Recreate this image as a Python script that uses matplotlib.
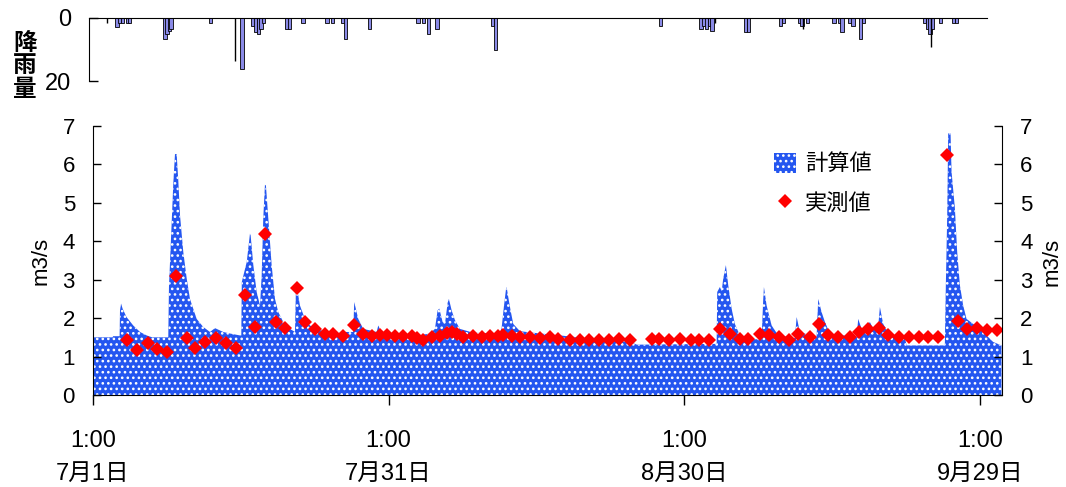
import numpy as np
import matplotlib
matplotlib.use('Agg')
import matplotlib.pyplot as plt
from matplotlib.patches import Patch
from matplotlib.lines import Line2D

plt.rcParams['font.family'] = ['Liberation Sans', 'Noto Sans CJK JP']
plt.rcParams['hatch.linewidth'] = 1.1

# 経過日数 (7/1 1:00 起点)
# 降雨量 (mm)
rain_day = [2.44, 2.71, 2.97, 3.48, 3.72, 7.29, 7.51, 7.76, 7.91, 11.90,
            15.10, 16.24, 16.51, 16.77, 17.05, 17.30, 19.69, 19.96, 21.31,
            23.74, 24.32, 25.37, 25.64, 28.08, 32.98, 33.52, 34.07, 34.89,
            40.56, 40.84, 57.61, 61.69, 61.99, 62.27, 62.53, 62.80, 66.24,
            66.54, 69.78, 70.05, 71.67, 71.94, 72.48, 75.19, 75.73, 76.00,
            76.81, 77.12, 77.91, 78.20, 84.39, 84.66, 84.93, 85.20, 86.02,
            87.34, 87.60]
rain_mm = [3.0, 1.7, 1.7, 1.7, 1.7, 6.7, 5.0, 4.0, 3.4, 1.7,
           16.1, 2.6, 4.4, 5.2, 3.4, 1.7, 3.5, 3.5, 1.7,
           1.7, 1.7, 1.7, 6.7, 3.5, 1.7, 1.7, 5.2, 3.5,
           2.6, 10.2, 2.6, 3.5, 2.6, 3.5, 2.6, 4.2, 4.4,
           4.4, 2.6, 1.7, 1.7, 2.6, 1.7, 1.7, 1.7, 4.4,
           1.7, 2.6, 6.7, 1.7, 1.7, 3.5, 5.0, 3.5, 1.7,
           1.7, 1.7]
# 細線で描かれている降雨
spike_day = [1.42, 14.41, 63.15, 72.07, 85.06]
spike_mm = [1.7, 13.7, 1.7, 3.5, 9.3]

# 計算値 (m3/s)
calc_day = [0, 2.0, 2.03, 2.7, 2.74, 2.85, 3.0, 3.4, 4.08, 4.77, 5.45, 6.0,
            7.64, 7.71, 7.99, 8.15, 8.32, 8.49, 8.66, 8.83, 9.16, 9.51, 9.84,
            10.52, 11.19, 11.87, 12.38, 13.22, 13.90, 14.92, 15.05, 15.10,
            15.60, 15.93, 16.0, 16.27, 16.61, 16.95, 17.12, 17.28, 17.45,
            17.55, 17.79, 18.13, 18.47, 18.80, 19.31, 19.99, 20.50, 20.60,
            20.73, 21.00, 21.51, 22.02, 22.70, 24.05, 25.40, 26.41, 26.51,
            26.92, 27.43, 28.79, 28.95, 29.29, 31.0, 33.0, 34.2, 34.70, 34.97,
            35.14, 35.48, 35.72, 35.99, 36.12, 36.40, 36.73, 37.24, 38.59,
            41.30, 41.47, 41.70, 41.91, 41.98, 42.14, 42.38, 42.65, 43.33,
            44.68, 47.39, 50.0, 52.0, 54.5, 55.2, 63.29, 63.35, 63.62, 63.80,
            63.96, 64.23, 64.47, 64.81, 65.14, 65.65, 66.33, 67.85, 68.02,
            68.09, 68.36, 68.87, 69.54, 71.23, 71.41, 71.74, 73.43, 73.60,
            73.94, 74.28, 74.78, 77.49, 77.66, 78.00, 78.50, 78.84, 79.18,
            79.69, 79.86, 80.19, 80.87, 82.39, 82.57, 86.45, 86.55, 86.69,
            86.79, 87.03, 87.13, 87.47, 87.70, 87.98, 88.31, 88.65, 89.33,
            90.00, 91.35, 92.2]
calc_q = [1.50, 1.50, 1.53, 1.53, 2.20, 2.38, 2.25, 2.03, 1.81, 1.64, 1.55, 1.50,
          1.50, 2.82, 4.52, 5.51, 6.27, 6.27, 5.56, 4.68, 3.73, 3.03, 2.50,
          1.98, 1.77, 1.64, 1.74, 1.64, 1.60, 1.55, 1.55, 2.94,
          3.46, 4.20, 4.15, 3.38, 2.68, 2.33, 3.12, 4.60, 5.47,
          5.45, 4.60, 3.38, 2.50, 2.16, 1.90, 1.72, 1.64, 2.85,
          2.75, 2.33, 1.98, 1.81, 1.70, 1.64, 1.64, 1.64, 2.42,
          1.98, 1.72, 1.64, 1.81, 1.62, 1.58, 1.55, 1.60, 1.72, 2.20,
          2.25, 1.90, 1.85, 2.40, 2.50, 2.20, 1.95, 1.72, 1.62,
          1.60, 1.75, 2.30, 2.75, 2.81, 2.55, 2.20, 1.85, 1.66,
          1.62, 1.55, 1.48, 1.43, 1.38, 1.31, 1.33, 2.68, 2.81, 2.70,
          3.03, 3.38, 2.85, 2.25, 1.85, 1.55, 1.45, 1.45, 2.50,
          2.81, 2.33, 1.81, 1.55, 1.48, 2.03, 1.64, 1.50, 2.50,
          2.16, 1.90, 1.60, 1.50, 1.98, 1.72, 1.75, 1.90, 1.72,
          1.80, 2.29, 1.85, 1.55, 1.50, 1.29, 1.29, 2.85, 4.68,
          6.81, 6.81, 5.81, 4.86, 3.73, 2.85, 2.33, 1.98, 1.85,
          1.72, 1.38, 1.29]

# 実測値 (m3/s)
obs_day = [3.42, 4.50, 5.55, 6.46, 7.48, 8.42, 9.51, 10.35, 11.36, 12.48,
           13.47, 14.51, 15.39, 16.44, 17.45, 18.54, 19.48, 20.67, 21.51,
           22.53, 23.54, 24.38, 25.40, 26.48, 27.37, 28.28, 29.12, 29.87,
           30.64, 31.49, 32.34, 32.85, 33.52, 34.37, 35.21, 35.89, 36.40,
           36.90, 37.57, 38.59, 39.44, 40.28, 41.13, 41.63, 42.49, 43.33,
           44.34, 45.36, 46.37, 47.21, 48.40, 49.42, 50.36, 51.37, 52.39,
           53.40, 54.49, 56.75, 57.46, 58.48, 59.57, 60.65, 61.52, 62.54,
           63.63, 64.64, 65.65, 66.46, 67.69, 68.60, 69.61, 70.65, 71.57,
           72.76, 73.70, 74.61, 75.56, 76.81, 77.76, 78.67, 79.79, 80.70,
           81.82, 82.83, 83.85, 84.76, 85.77, 86.63, 87.80, 88.65, 89.67,
           90.68, 91.70]
obs_q = [1.44, 1.18, 1.35, 1.20, 1.13, 3.10, 1.49, 1.23, 1.39, 1.49,
         1.35, 1.22, 2.59, 1.77, 4.18, 1.91, 1.74, 2.79, 1.91,
         1.71, 1.59, 1.59, 1.53, 1.81, 1.59, 1.53, 1.57, 1.57,
         1.53, 1.53, 1.53, 1.49, 1.42, 1.51, 1.53, 1.62, 1.64,
         1.59, 1.51, 1.53, 1.51, 1.53, 1.53, 1.57, 1.53, 1.51,
         1.51, 1.48, 1.51, 1.46, 1.44, 1.44, 1.44, 1.44, 1.44,
         1.46, 1.42, 1.46, 1.46, 1.44, 1.46, 1.44, 1.44, 1.42,
         1.72, 1.59, 1.46, 1.46, 1.59, 1.55, 1.51, 1.44, 1.59,
         1.51, 1.85, 1.57, 1.51, 1.51, 1.64, 1.71, 1.74, 1.55,
         1.51, 1.51, 1.51, 1.51, 1.51, 6.25, 1.92, 1.72, 1.74,
         1.68, 1.68]

tick_day = [0, 30, 60, 90]
tick_lab = ['1:00\n7月1日', '1:00\n7月31日', '1:00\n8月30日', '1:00\n9月29日']

blue = '#2456f0'
W, H = 1066, 487
fig = plt.figure(figsize=(W / 100, H / 100), dpi=100)

# 降雨量
axr = fig.add_axes([89 / W, 1 - 81 / H, 898 / W, 63 / H])
axr.bar(rain_day, rain_mm, width=0.34, color='#8a8ae6', edgecolor='black',
        linewidth=0.6)
axr.vlines(spike_day, 0, spike_mm, color='black', linewidth=1)
axr.set_xlim(-0.41, 90.72)
axr.set_ylim(20, 0)
axr.set_yticks([0, 20])
axr.set_xticks([])
for s in ['right', 'bottom']:
    axr.spines[s].set_visible(False)
axr.tick_params(axis='y', direction='in', length=6.5, width=1, pad=13,
                labelsize=17)
fig.text(25 / W, 1 - 66 / H, '降\n雨\n量', ha='center', va='center',
         fontsize=17, fontweight='bold', linespacing=1.0)

# 流量
ax = fig.add_axes([93 / W, 1 - 395 / H, 909 / W, 269 / H])
ax.fill_between(calc_day, 0, calc_q, facecolor=blue, edgecolor='white',
                hatch='...', linewidth=0)
ax.plot(obs_day, obs_q, linestyle='none', marker='D', markersize=7,
        color='red', markeredgewidth=0)
ax.set_xlim(0, 92.25)
ax.set_ylim(0, 7)
ax.set_yticks(range(8))
ax.set_xticks(tick_day)
ax.set_xticklabels(tick_lab, linespacing=1.65)
ax.spines['top'].set_visible(False)
ax.tick_params(axis='y', direction='in', length=5.5, width=1, left=True,
               right=True, labelleft=True, labelright=True, pad=13,
               labelsize=16)
ax.tick_params(axis='x', direction='out', length=7, width=1, pad=18,
               labelsize=17)
ax.set_ylabel('m3/s', fontsize=16, labelpad=8)
fig.text(1052 / W, 1 - 262 / H, 'm3/s', rotation=90, ha='center',
         va='center', fontsize=16)

handles = [Patch(facecolor=blue, edgecolor='white', hatch='...', linewidth=0),
           Line2D([], [], linestyle='none', marker='D', markersize=7,
                  color='red', markeredgewidth=0)]
ax.legend(handles, ['計算値', '実測値'], loc='upper left',
          bbox_to_anchor=(0.727, 0.975), frameon=False, fontsize=16,
          handlelength=1.0, handleheight=1.0, handletextpad=0.4,
          labelspacing=0.75)

fig.savefig('out.png', dpi=100)
